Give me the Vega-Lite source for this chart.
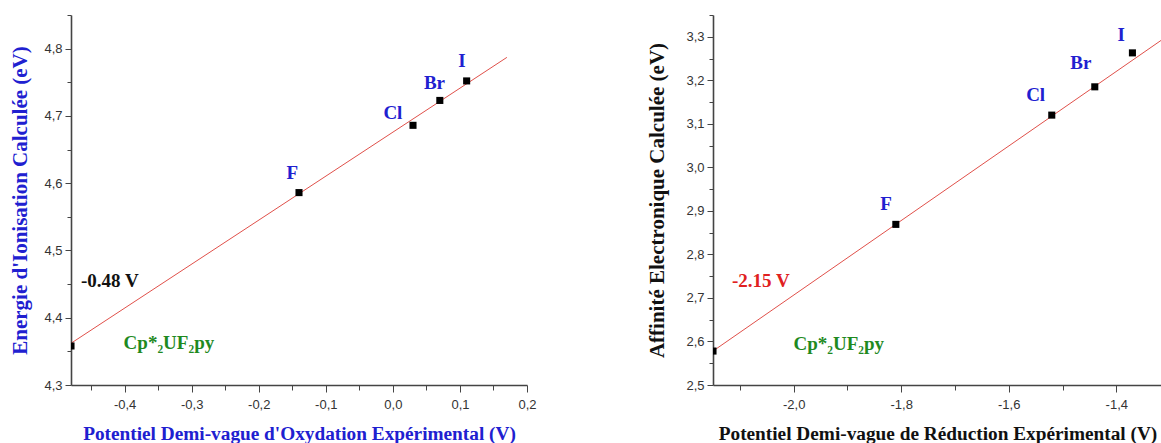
{
  "$schema": "https://vega.github.io/schema/vega-lite/v6.json",
  "padding": {"left": 9, "top": 9, "right": 0, "bottom": 0},
  "bounds": "flush",
  "spacing": 186,
  "background": "white",
  "config": {
    "view": {"stroke": null},
    "axis": {
      "grid": false,
      "domainColor": "#444",
      "domainWidth": 1.6,
      "tickColor": "#444",
      "tickWidth": 1,
      "labelFont": "Liberation Sans",
      "labelFontSize": 13,
      "labelColor": "#333",
      "labelOverlap": false,
      "labelFlush": false,
      "titleFont": "Liberation Serif",
      "titleFontWeight": "bold"
    },
    "axisX": {"titleFontSize": 19.3},
    "axisY": {"titleFontSize": 21}
  },
  "datasets": {
    "ox_points": [
      {"E": -0.48, "IE": 4.358},
      {"E": -0.14, "IE": 4.586},
      {"E": 0.03, "IE": 4.686},
      {"E": 0.07, "IE": 4.723},
      {"E": 0.11, "IE": 4.752}
    ],
    "ox_fit": [
      {"E": -0.48, "IE": 4.362},
      {"E": 0.17, "IE": 4.787}
    ],
    "ox_labels": [
      {"E": -0.150, "IE": 4.615, "text": "F", "kind": "halogen"},
      {"E": 0.0, "IE": 4.705, "text": "Cl", "kind": "halogen"},
      {"E": 0.062, "IE": 4.749, "text": "Br", "kind": "halogen"},
      {"E": 0.103, "IE": 4.781, "text": "I", "kind": "halogen"},
      {"E": -0.422, "IE": 4.455, "text": "-0.48 V", "kind": "potential"},
      {"E": -0.334, "IE": 4.362, "text": "Cp*₂UF₂py", "kind": "compound"}
    ],
    "red_points": [
      {"E": -2.15, "EA": 2.578},
      {"E": -1.81, "EA": 2.869},
      {"E": -1.52, "EA": 3.12},
      {"E": -1.44, "EA": 3.185},
      {"E": -1.37, "EA": 3.263}
    ],
    "red_fit": [
      {"E": -2.15, "EA": 2.578},
      {"E": -1.30, "EA": 3.306}
    ],
    "red_labels": [
      {"E": -1.828, "EA": 2.915, "text": "F", "kind": "halogen"},
      {"E": -1.55, "EA": 3.166, "text": "Cl", "kind": "halogen"},
      {"E": -1.466, "EA": 3.24, "text": "Br", "kind": "halogen"},
      {"E": -1.391, "EA": 3.305, "text": "I", "kind": "halogen"},
      {"E": -2.061, "EA": 2.74, "text": "-2.15 V", "kind": "potential"},
      {"E": -1.916, "EA": 2.594, "text": "Cp*₂UF₂py", "kind": "compound"}
    ]
  },
  "hconcat": [
    {
      "width": 456,
      "height": 370,
      "encoding": {
        "x": {
          "field": "E", "type": "quantitative",
          "scale": {"domain": [-0.48, 0.2], "nice": false, "zero": false},
          "axis": {
            "title": "Potentiel Demi-vague d'Oxydation Expérimental (V)",
            "titleColor": "#2020d0",
            "titlePadding": 13,
            "labelPadding": 6,
            "values": [-0.45, -0.4, -0.35, -0.3, -0.25, -0.2, -0.15, -0.1, -0.05, 0, 0.05, 0.1, 0.15, 0.2],
            "labelExpr": "abs(datum.value*10 - round(datum.value*10)) < 0.001 ? replace(replace(format(datum.value, '.1f'), '.', ','), '\u2212', '-') : ''",
            "tickSize": {"condition": {"test": "abs(datum.value*10 - round(datum.value*10)) < 0.001", "value": 7}, "value": 5}
          }
        },
        "y": {
          "field": "IE", "type": "quantitative",
          "scale": {"domain": [4.3, 4.85], "nice": false, "zero": false},
          "axis": {
            "title": "Energie d'Ionisation Calculée (eV)",
            "titleColor": "#2020d0",
            "titlePadding": 13,
            "labelPadding": 3,
            "values": [4.3, 4.35, 4.4, 4.45, 4.5, 4.55, 4.6, 4.65, 4.7, 4.75, 4.8, 4.85],
            "labelExpr": "abs(datum.value*10 - round(datum.value*10)) < 0.001 ? replace(format(datum.value, '.1f'), '.', ',') : ''",
            "tickSize": {"condition": {"test": "abs(datum.value*10 - round(datum.value*10)) < 0.001", "value": 6}, "value": 4}
          }
        }
      },
      "layer": [
        {
          "data": {"name": "ox_fit"},
          "mark": {"type": "line", "color": "#e0504a", "strokeWidth": 1, "clip": true}
        },
        {
          "data": {"name": "ox_points"},
          "mark": {"type": "point", "shape": "square", "filled": true, "color": "black", "opacity": 1, "size": 50, "clip": true}
        },
        {
          "data": {"name": "ox_labels"},
          "mark": {"type": "text", "font": "Liberation Serif", "fontWeight": "bold", "fontSize": 19, "align": "center", "baseline": "middle"},
          "encoding": {
            "text": {"field": "text"},
            "color": {
              "field": "kind", "type": "nominal", "legend": null,
              "scale": {"domain": ["halogen", "potential", "compound"], "range": ["#2020d0", "#111111", "#1f8a1f"]}
            }
          }
        }
      ]
    },
    {
      "width": 449,
      "height": 370,
      "encoding": {
        "x": {
          "field": "E", "type": "quantitative",
          "scale": {"domain": [-2.15, -1.315], "nice": false, "zero": false},
          "axis": {
            "title": "Potentiel Demi-vague de Réduction Expérimental (V)",
            "titleColor": "#111",
            "titlePadding": 13,
            "labelPadding": 6,
            "values": [-2.1, -2.0, -1.9, -1.8, -1.7, -1.6, -1.5, -1.4],
            "labelExpr": "abs(datum.value*5 - round(datum.value*5)) < 0.001 ? replace(replace(format(datum.value, '.1f'), '.', ','), '\u2212', '-') : ''",
            "tickSize": {"condition": {"test": "abs(datum.value*5 - round(datum.value*5)) < 0.001", "value": 7}, "value": 5}
          }
        },
        "y": {
          "field": "EA", "type": "quantitative",
          "scale": {"domain": [2.5, 3.35], "nice": false, "zero": false},
          "axis": {
            "title": "Affinité Electronique Calculée (eV)",
            "titleColor": "#111",
            "titlePadding": 18,
            "labelPadding": 3,
            "values": [2.5, 2.55, 2.6, 2.65, 2.7, 2.75, 2.8, 2.85, 2.9, 2.95, 3.0, 3.05, 3.1, 3.15, 3.2, 3.25, 3.3, 3.35],
            "labelExpr": "abs(datum.value*10 - round(datum.value*10)) < 0.001 ? replace(format(datum.value, '.1f'), '.', ',') : ''",
            "tickSize": {"condition": {"test": "abs(datum.value*10 - round(datum.value*10)) < 0.001", "value": 6}, "value": 4}
          }
        }
      },
      "layer": [
        {
          "data": {"name": "red_fit"},
          "mark": {"type": "line", "color": "#e0504a", "strokeWidth": 1, "clip": true}
        },
        {
          "data": {"name": "red_points"},
          "mark": {"type": "point", "shape": "square", "filled": true, "color": "black", "opacity": 1, "size": 50, "clip": true}
        },
        {
          "data": {"name": "red_labels"},
          "mark": {"type": "text", "font": "Liberation Serif", "fontWeight": "bold", "fontSize": 19, "align": "center", "baseline": "middle"},
          "encoding": {
            "text": {"field": "text"},
            "color": {
              "field": "kind", "type": "nominal", "legend": null,
              "scale": {"domain": ["halogen", "potential", "compound"], "range": ["#2020d0", "#e02020", "#1f8a1f"]}
            }
          }
        }
      ]
    }
  ],
  "resolve": {"scale": {"color": "independent"}}
}
